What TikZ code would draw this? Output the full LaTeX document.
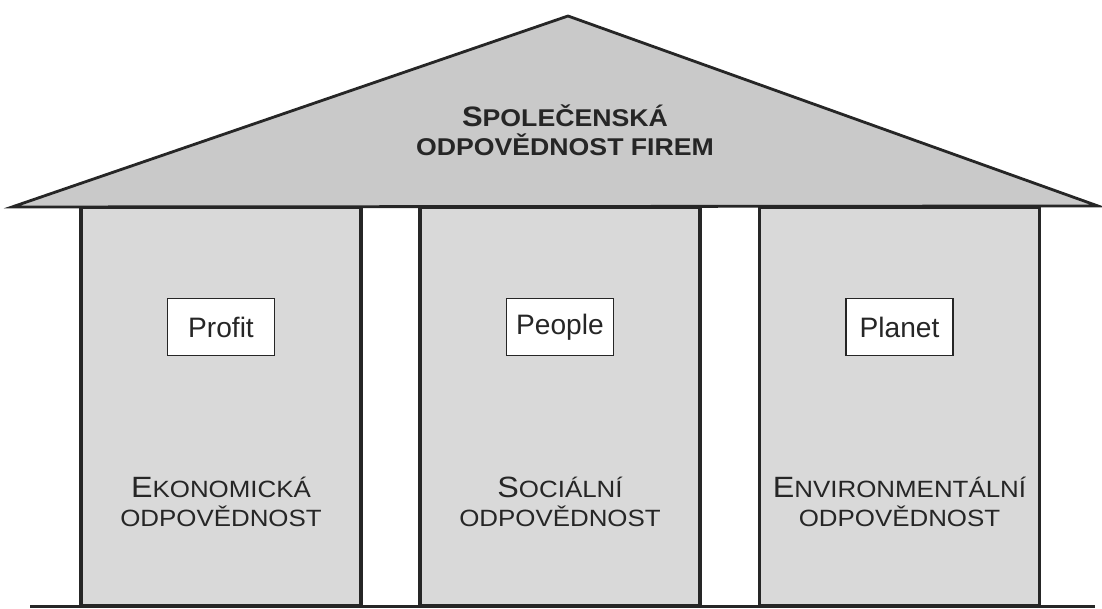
\documentclass[tikz,border=0pt]{standalone}
\usepackage{fontspec}
\setmainfont{Liberation Sans}
\newfontfamily\pillarfont[FakeStretch=1.1]{Liberation Sans}
\usepackage{tikz}
\usetikzlibrary{positioning}

% first letter large, the rest as small capitals
\newcommand{\smcap}[2]{{\fontsize{16.7}{16.5}\selectfont #1}#2}
\newcommand{\roofcap}[2]{{\fontsize{16}{16.5}\selectfont #1}#2}

\begin{document}
\begin{tikzpicture}[
        pillar/.style={draw=black!85, fill=gray!30, line width=1.8pt, minimum width=5.6cm, minimum height=7.98cm, inner sep=0pt},
        pillartext/.style={font=\pillarfont\fontsize{13.4}{16.5}\selectfont, align=center, text=black!85},
        valuebox/.style={draw=black!85, fill=white, line width=1.1pt, minimum width=2.14cm, minimum height=1.14cm, font=\fontsize{16}{18}\selectfont, text=black!85},
        roof/.style={draw=black!85, fill=gray!42, line width=1.6pt, line join=miter},
        rooftext/.style={font=\bfseries\pillarfont\fontsize{13.8}{16.5}\selectfont, align=center, text=black!85}
    ]
        \useasboundingbox (0, 0) rectangle (22.04, 12.18);
        % pillars
        \node [pillar] (eko) at (4.42, 4.05) {};
        \node [pillar] (soc) at (11.2, 4.05) {};
        \node [pillar] (env) at (17.99, 4.05) {};
        \node [valuebox] (profit) at (4.42, 5.64) {Profit};
        \node [valuebox] (people) at (11.2, 5.64) {People};
        \node [valuebox] (planet) at (17.99, 5.64) {Planet};
        \node [pillartext] (ekotext) at (4.42, 2.14) {\smcap{E}{KONOMICKÁ}\\\smcap{}{ODPOVĚDNOST}};
        \node [pillartext] (soctext) at (11.2, 2.14) {\smcap{S}{OCIÁLNÍ}\\\smcap{}{ODPOVĚDNOST}};
        \node [pillartext] (envtext) at (17.99, 2.14) {\smcap{E}{NVIRONMENTÁLNÍ}\\\smcap{}{ODPOVĚDNOST}};
        % base
        \coordinate (base west) at (0.6, 0.05);
        \coordinate (base east) at (21.9, 0.05);
        \draw [black!85, line width=1.7pt] (base west) -- (base east);
        % roof
        \coordinate (eaves west) at (0.24, 8.04);
        \coordinate (apex) at (11.36, 11.86);
        \coordinate (eaves east) at (21.96, 8.06);
        \draw [roof] (eaves west) -- (apex) -- (eaves east) -- cycle;
        \node [rooftext] (csr) at (11.3, 9.58) {\roofcap{S}{POLEČENSKÁ}\\\roofcap{}{ODPOVĚDNOST FIREM}};
    \end{tikzpicture}
\end{document}
